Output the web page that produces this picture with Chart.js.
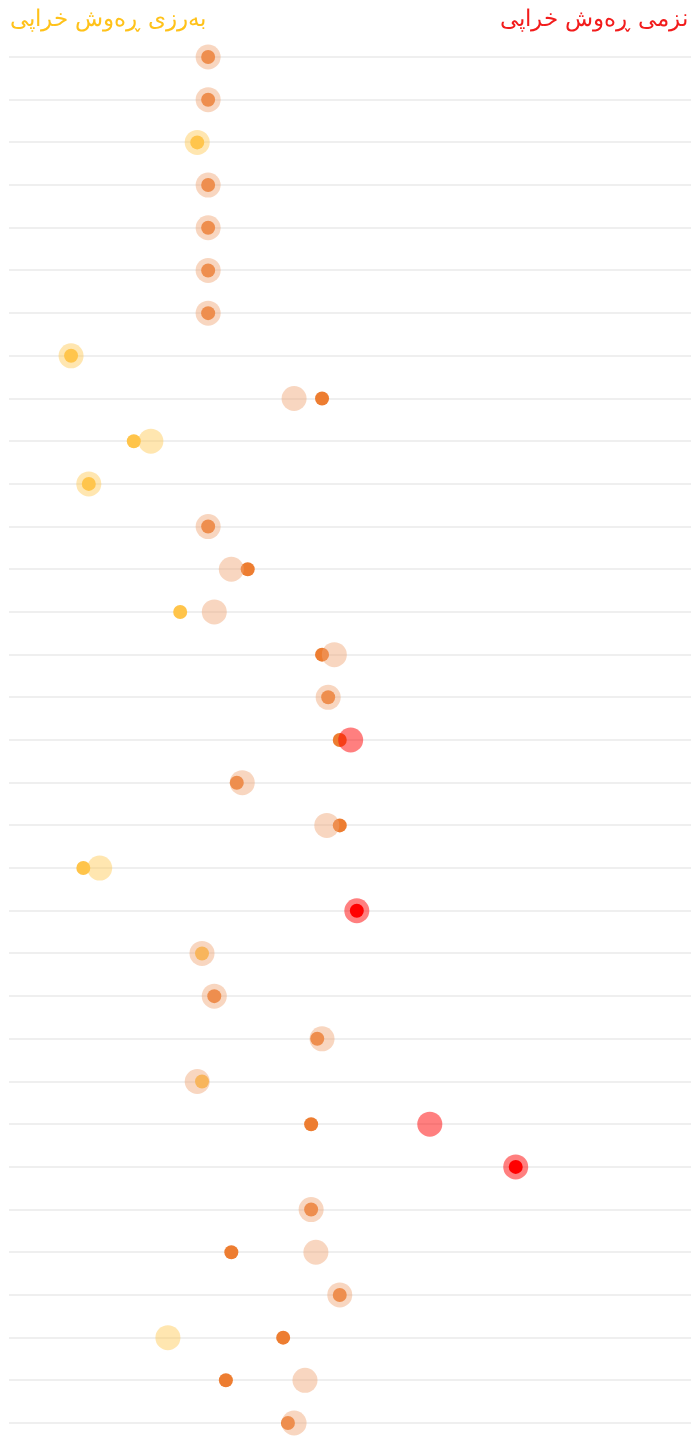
<!DOCTYPE html>
<html>
<head>
<meta charset="utf-8">
<script src="https://cdn.jsdelivr.net/npm/chart.js@4/dist/chart.umd.min.js"></script>
<style>
  html, body { margin: 0; padding: 0; background: #fff; overflow: hidden; }
  #wrap { position: relative; width: 691px; height: 1436px; overflow: hidden; }
  canvas { position: absolute; left: 0; top: 0; }
  .ttl { position: absolute; top: 3px; font-family: "DejaVu Sans", sans-serif; font-size: 23px; font-weight: 300; white-space: nowrap; direction: rtl; line-height: 30px; }
  #tLeft { left: 10px; color: #FFC21A; }
  #tRight { left: 500px; color: #F21C1C; }
</style>
</head>
<body>
<div id="wrap">
  <canvas id="c" width="691" height="1436"></canvas>
  <div class="ttl" id="tLeft">بەرزی ڕەوش خراپی</div>
  <div class="ttl" id="tRight">نزمی ڕەوش خراپی</div>
</div>
<script>
// Row index 0..32 (top to bottom)
const rows = Array.from({length: 33}, (_, i) => i);

// Large (faded) markers
const bigValues = [29.2,29.2,27.6,29.2,29.2,29.2,29.2,9.1,41.8,20.8,11.7,29.2,32.6,30.1,47.7,46.8,50.1,34.2,46.6,13.3,51.0,28.3,30.1,45.9,27.6,61.7,74.3,44.3,45.0,48.5,23.3,43.4,41.8];
const bigLevels = ['m','m','h','m','m','m','m','h','m','h','h','m','m','m','m','m','l','m','m','h','l','m','m','m','m','l','l','m','m','m','h','m','m'];

// Small (solid) markers
const smallValues = [29.2,29.2,27.6,29.2,29.2,29.2,29.2,9.1,45.9,18.3,11.7,29.2,35.0,25.1,45.9,46.8,48.5,33.4,48.5,10.9,51.0,28.3,30.1,45.2,28.3,44.3,74.3,44.3,32.6,48.5,40.2,31.8,40.9];
const smallLevels = ['m','m','h','m','m','m','m','h','m','h','h','m','m','h','m','m','m','m','m','h','l','h','m','m','h','m','l','m','m','m','m','m','m'];

const solid = { h: 'rgb(255,196,74)', m: 'rgb(237,125,49)', l: 'rgb(255,0,0)' };
const faded = { h: 'rgba(255,200,80,0.45)', m: 'rgba(240,165,115,0.45)', l: 'rgba(255,0,0,0.5)' };

const smallData = rows.map(i => ({ x: smallValues[i], y: i }));
const bigData = rows.map(i => ({ x: bigValues[i], y: i }));

new Chart(document.getElementById('c'), {
  type: 'scatter',
  data: {
    datasets: [
      {
        data: bigData,
        order: 0,
        pointRadius: 12.5,
        pointHoverRadius: 12.5,
        borderWidth: 0,
        backgroundColor: ctx => faded[bigLevels[ctx.dataIndex]],
        clip: false
      },
      {
        data: smallData,
        order: 1,
        pointRadius: 7,
        pointHoverRadius: 7,
        borderWidth: 0,
        backgroundColor: ctx => solid[smallLevels[ctx.dataIndex]],
        clip: false
      }
    ]
  },
  options: {
    responsive: false,
    animation: false,
    events: [],
    layout: { autoPadding: false, padding: { left: 9, right: 0, top: 57, bottom: 13 } },
    plugins: { legend: { display: false }, tooltip: { enabled: false } },
    scales: {
      x: { type: 'linear', min: 0, max: 100, display: false },
      y: {
        type: 'linear', min: 0, max: 32, reverse: true,
        ticks: { display: false, stepSize: 1 },
        grid: { color: '#efefef', lineWidth: 2, drawTicks: false },
        border: { display: false }
      }
    }
  }
});
</script>
</body>
</html>
